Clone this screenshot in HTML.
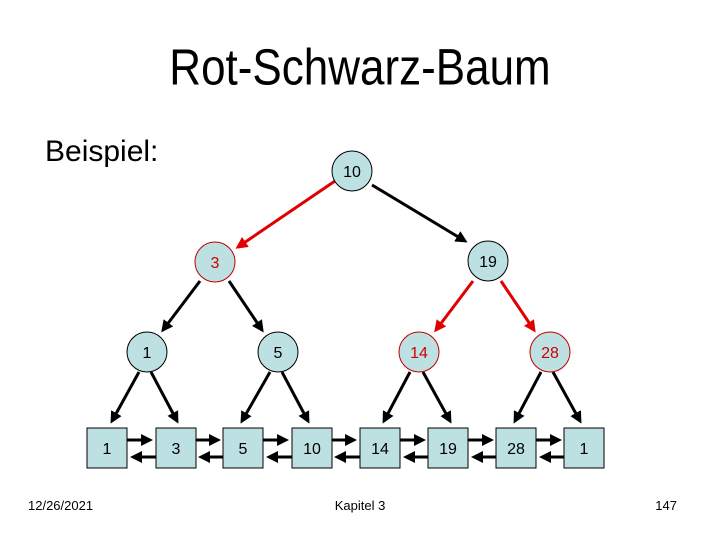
<!DOCTYPE html>
<html><head><meta charset="utf-8"><style>
body{margin:0;background:#fff;}
svg{display:block;font-family:"Liberation Sans",Arial,sans-serif;}
</style></head><body>
<svg width="720" height="540" viewBox="0 0 720 540" xmlns="http://www.w3.org/2000/svg">
<defs>
<marker id="ab" markerWidth="4" markerHeight="4" refX="3" refY="2" orient="auto" markerUnits="strokeWidth"><path d="M0,0 L4,2 L0,4 z" fill="#000"/></marker>
<marker id="ar" markerWidth="4" markerHeight="4" refX="3" refY="2" orient="auto" markerUnits="strokeWidth"><path d="M0,0 L4,2 L0,4 z" fill="#e00000"/></marker>
</defs>
<text x="360" y="84" font-size="44" text-anchor="middle" transform="translate(0,-12) scale(1,1.15)" >Rot-Schwarz-Baum</text>
<text x="45" y="161" font-size="30">Beispiel:</text>
<g stroke-width="3">
<line x1="335" y1="181" x2="238" y2="247" stroke="#e00000" marker-end="url(#ar)"/>
<line x1="372" y1="185" x2="465" y2="241" stroke="#000" marker-end="url(#ab)"/>
<line x1="200" y1="281" x2="163" y2="330" stroke="#000" marker-end="url(#ab)"/>
<line x1="229" y1="281" x2="262" y2="330" stroke="#000" marker-end="url(#ab)"/>
<line x1="473" y1="281" x2="436" y2="330" stroke="#e00000" marker-end="url(#ar)"/>
<line x1="501" y1="281" x2="534" y2="330" stroke="#e00000" marker-end="url(#ar)"/>
<line x1="139" y1="372" x2="112" y2="421" stroke="#000" marker-end="url(#ab)"/>
<line x1="151" y1="372" x2="177" y2="421" stroke="#000" marker-end="url(#ab)"/>
<line x1="270" y1="372" x2="242" y2="421" stroke="#000" marker-end="url(#ab)"/>
<line x1="282" y1="372" x2="308" y2="421" stroke="#000" marker-end="url(#ab)"/>
<line x1="410" y1="372" x2="384" y2="421" stroke="#000" marker-end="url(#ab)"/>
<line x1="423" y1="372" x2="450" y2="421" stroke="#000" marker-end="url(#ab)"/>
<line x1="541" y1="372" x2="515" y2="421" stroke="#000" marker-end="url(#ab)"/>
<line x1="553" y1="372" x2="580" y2="421" stroke="#000" marker-end="url(#ab)"/>
</g>
<g stroke="#000" stroke-width="3">
<line x1="127" y1="440" x2="150" y2="440" marker-end="url(#ab)"/><line x1="156" y1="457" x2="133" y2="457" marker-end="url(#ab)"/>
<line x1="196" y1="440" x2="218" y2="440" marker-end="url(#ab)"/><line x1="223" y1="457" x2="201" y2="457" marker-end="url(#ab)"/>
<line x1="263" y1="440" x2="286" y2="440" marker-end="url(#ab)"/><line x1="292" y1="457" x2="269" y2="457" marker-end="url(#ab)"/>
<line x1="332" y1="440" x2="354" y2="440" marker-end="url(#ab)"/><line x1="360" y1="457" x2="337" y2="457" marker-end="url(#ab)"/>
<line x1="400" y1="440" x2="423" y2="440" marker-end="url(#ab)"/><line x1="428" y1="457" x2="406" y2="457" marker-end="url(#ab)"/>
<line x1="468" y1="440" x2="491" y2="440" marker-end="url(#ab)"/><line x1="496" y1="457" x2="474" y2="457" marker-end="url(#ab)"/>
<line x1="536" y1="440" x2="559" y2="440" marker-end="url(#ab)"/><line x1="564" y1="457" x2="542" y2="457" marker-end="url(#ab)"/>
</g>
<g fill="#bde0e3" stroke="#000" stroke-width="1">
<rect x="87" y="428" width="40" height="40"/><rect x="156" y="428" width="40" height="40"/>
<rect x="223" y="428" width="40" height="40"/><rect x="292" y="428" width="40" height="40"/>
<rect x="360" y="428" width="40" height="40"/><rect x="428" y="428" width="40" height="40"/>
<rect x="496" y="428" width="40" height="40"/><rect x="564" y="428" width="40" height="40"/>
<circle cx="352" cy="171" r="20"/><circle cx="488" cy="261" r="20"/>
<circle cx="147" cy="352" r="20"/><circle cx="278" cy="352" r="20"/>
</g>
<g fill="#bde0e3" stroke="#c00000" stroke-width="1">
<circle cx="215" cy="262" r="20"/><circle cx="419" cy="352" r="20"/><circle cx="550" cy="352" r="20"/>
</g>
<g font-size="16" text-anchor="middle" fill="#000">
<text x="352" y="177">10</text><text x="488" y="267">19</text>
<text x="147" y="358">1</text><text x="278" y="358">5</text>
<text x="107" y="454">1</text><text x="176" y="454">3</text><text x="243" y="454">5</text><text x="312" y="454">10</text>
<text x="380" y="454">14</text><text x="448" y="454">19</text><text x="516" y="454">28</text><text x="584" y="454">1</text>
</g>
<g font-size="16" text-anchor="middle" fill="#d00000">
<text x="215" y="268">3</text><text x="419" y="358">14</text><text x="550" y="358">28</text>
</g>
<g font-size="13" fill="#000">
<text x="28" y="510">12/26/2021</text>
<text x="360" y="510" text-anchor="middle">Kapitel 3</text>
<text x="677" y="510" text-anchor="end">147</text>
</g>
</svg>
</body></html>
